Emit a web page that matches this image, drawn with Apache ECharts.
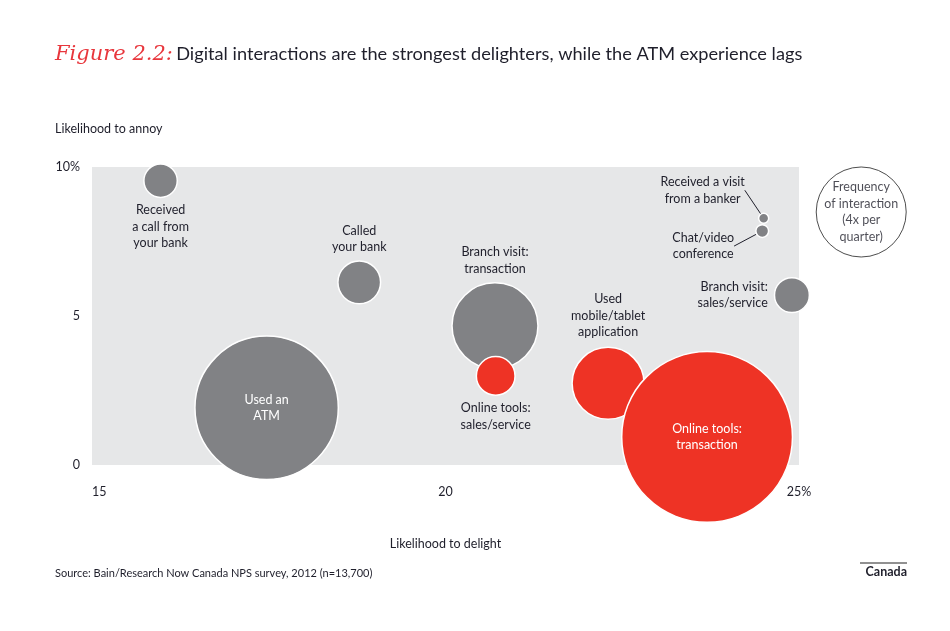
<!DOCTYPE html>
<html>
<head>
<meta charset="utf-8">
<script src="https://cdn.jsdelivr.net/npm/echarts@6/dist/echarts.min.js"></script>
<style>
  html, body { margin: 0; padding: 0; background: #fff; }
  #main { width: 950px; height: 631px; }
</style>
</head>
<body>
<div id="main"></div>
<script type="text/javascript">
// interactions
var names = [
  'Received\na call from\nyour bank',
  'Used an\nATM',
  'Called\nyour bank',
  'Branch visit:\ntransaction',
  'Online tools:\nsales/service',
  'Used\nmobile/tablet\napplication',
  'Online tools:\ntransaction',
  'Received a visit\nfrom a banker',
  'Chat/video\nconference',
  'Branch visit:\nsales/service'
];
var delight = [15.97, 17.47, 18.78, 20.70, 20.71, 22.30, 23.70, 24.50, 24.48, 24.90];
var annoy   = [9.54, 1.92, 6.13, 4.67, 2.99, 2.74, 0.94, 8.28, 7.85, 5.70];
var freq    = [0.55, 10.15, 0.90, 3.65, 0.74, 2.56, 14.4, 0.05, 0.08, 0.60];
var digital = [false, false, false, false, true, true, true, false, false, false];

// legend bubble: 4x per quarter
var legendFreq = 4;
var legendPos = [25.88, 8.49];

var GRAY = '#818285', RED = '#ee3325', INK = '#1f1f2b';
var FONT = 'Lato';

function sizeOf(f) { return 90 * Math.sqrt(f / 4); }

// where each label sits
var labelStyle = [
  { position: 'bottom', distance: 4 },
  { position: 'inside', color: '#fff' },
  { position: 'top', distance: 5 },
  { position: 'top', distance: 5 },
  { position: 'bottom', distance: 4 },
  { position: 'top', distance: 6 },
  { position: 'inside', color: '#fff' },
  { position: 'inside', move: [-61, -28] },
  { position: 'inside', move: [-59, 15] },
  { position: 'left', distance: 6 }
];

var points = names.map(function (n, i) {
  var ls = labelStyle[i];
  var item = {
    name: n,
    value: [delight[i], annoy[i], freq[i]],
    itemStyle: { color: digital[i] ? RED : GRAY },
    label: {
      show: true,
      position: ls.position,
      distance: ls.distance || 5,
      formatter: n,
      color: ls.color || INK,
      fontFamily: FONT,
      fontSize: 12.5,
      lineHeight: 16.5,
      align: ls.position === 'left' ? 'right' : 'center'
    }
  };
  if (ls.move) {
    item.labelLine = { show: true, lineStyle: { color: INK, width: 1 } };
  }
  return item;
});

var chart = echarts.init(document.getElementById('main'), null, { renderer: 'canvas' });

var option = {
  animation: false,
  backgroundColor: '#fff',
  grid: {
    left: 92, right: 151, top: 167, bottom: 166,
    show: true, backgroundColor: '#e6e7e8', borderWidth: 0
  },
  xAxis: {
    type: 'value', min: 15, max: 25, interval: 5,
    axisLine: { show: false }, axisTick: { show: false }, splitLine: { show: false },
    axisLabel: {
      margin: 20, color: INK, fontFamily: FONT, fontSize: 12.5,
      alignMinLabel: 'left',
      formatter: function (v) { return v === 25 ? v + '%' : String(v); }
    },
    name: 'Likelihood to delight',
    nameLocation: 'middle', nameGap: 72,
    nameTextStyle: { color: INK, fontFamily: FONT, fontSize: 12.5 }
  },
  yAxis: {
    type: 'value', min: 0, max: 10, interval: 5,
    axisLine: { show: false }, axisTick: { show: false }, splitLine: { show: false },
    axisLabel: {
      margin: 12, color: INK, fontFamily: FONT, fontSize: 12.5,
      formatter: function (v) { return v === 10 ? v + '%' : String(v); }
    }
  },
  series: [
    {
      type: 'scatter',
      clip: false,
      data: points,
      symbolSize: function (d) { return sizeOf(d[2]); },
      itemStyle: { borderColor: '#fff', borderWidth: 1.5, opacity: 1 },
      labelLayout: function (p) {
        var m = labelStyle[p.dataIndex].move;
        return m ? { dx: m[0], dy: m[1] } : {};
      },
      emphasis: { disabled: true }
    },
    {
      type: 'scatter',
      clip: false,
      data: [{
        value: [legendPos[0], legendPos[1], legendFreq],
        label: {
          show: true, position: 'inside',
          formatter: 'Frequency\nof interaction\n(4x per\nquarter)',
          color: INK, fontFamily: FONT, fontSize: 12.5, lineHeight: 16.5
        }
      }],
      symbolSize: function (d) { return sizeOf(d[2]); },
      itemStyle: { color: '#fff', borderColor: '#222', borderWidth: 1 },
      emphasis: { disabled: true }
    }
  ],
  graphic: [
    {
      type: 'text', left: 55, top: 44,
      style: {
        text: '{fig|Figure 2.2:} {t|Digital interactions are the strongest delighters, while the ATM experience lags}',
        rich: {
          fig: { fontFamily: 'DejaVu Serif', fontStyle: 'italic', fontSize: 21, fill: '#e8363c' },
          t: { fontFamily: FONT, fontSize: 18.2, fill: INK }
        }
      }
    },
    {
      type: 'text', left: 55, top: 122,
      style: { text: 'Likelihood to annoy', fontFamily: FONT, fontSize: 12.5, fill: INK }
    },
    {
      type: 'text', left: 55, top: 568,
      style: { text: 'Source: Bain/Research Now Canada NPS survey, 2012 (n=13,700)', fontFamily: FONT, fontSize: 11, fill: INK }
    },
    {
      type: 'line', shape: { x1: 860, y1: 563, x2: 907, y2: 563 },
      style: { stroke: '#222', lineWidth: 1 }
    },
    {
      type: 'text', right: 43, top: 565,
      style: { text: 'Canada', fontFamily: FONT, fontWeight: 'bold', fontSize: 12.5, fill: INK }
    }
  ]
};

chart.setOption(option);
window.addEventListener('resize', function () { chart.resize(); });
</script>
</body>
</html>
